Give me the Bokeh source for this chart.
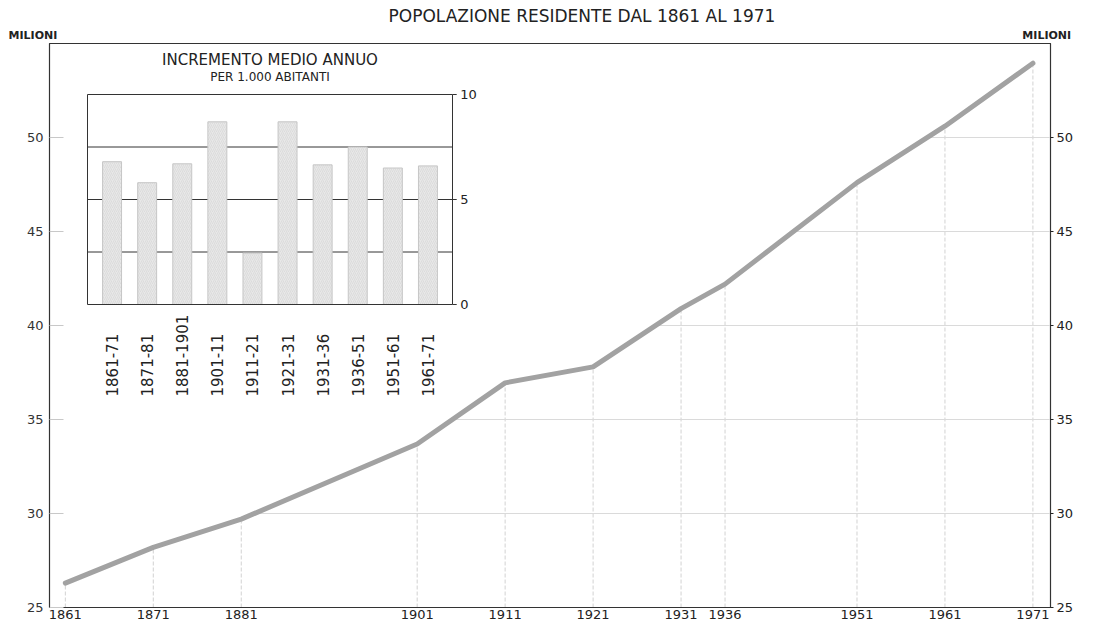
import numpy as np
from bokeh.plotting import figure
from bokeh.models import Range1d, LinearAxis, FixedTicker, Title
from bokeh.core.properties import value
from bokeh.embed import file_html
from bokeh.resources import INLINE

# ---------------- data ----------------
years = [1861, 1871, 1881, 1901, 1911, 1921, 1931, 1936, 1951, 1961, 1971]
population = [26.3, 28.2, 29.7, 33.7, 36.95, 37.8, 40.9, 42.2, 47.6, 50.6, 53.95]
y_ticks = [25, 30, 35, 40, 45, 50]

periods = ["1861-71", "1871-81", "1881-1901", "1901-11", "1911-21",
           "1921-31", "1931-36", "1936-51", "1951-61", "1961-71"]
increment = [6.8, 5.8, 6.7, 8.7, 2.45, 8.7, 6.65, 7.5, 6.5, 6.6]
inset_ticks = [0, 5, 10]
inset_grid = [2.5, 5, 7.5]

title = "POPOLAZIONE RESIDENTE DAL 1861 AL 1971"
unit_label = "MILIONI"
inset_title = "INCREMENTO MEDIO ANNUO"
inset_subtitle = "PER 1.000 ABITANTI"

# ---------------- layout (canvas px) ----------------
FONT_NAME = "DejaVu Sans"
FONT = value(FONT_NAME)
W, H = 1081, 622
L, R, T, B = 49, 1050, 43, 607
FW, FH = R - L, B - T
X0, X1 = 1859.2, 1973.0
Y0, Y1 = 25, 55

p = figure(width=W, height=H, output_backend="svg", toolbar_location=None,
           x_range=Range1d(X0, X1), y_range=Range1d(Y0, Y1),
           min_border_left=L, min_border_right=W - R,
           min_border_top=T, min_border_bottom=H - B)
p.grid.visible = False
p.outline_line_color = "#333333"
p.outline_line_width = 1.2
p.background_fill_color = "white"
p.border_fill_color = "white"

# "MILIONI" over both value axes (one title row), then the main title
gap = "\u00a0" * 252
p.add_layout(Title(text=unit_label + gap + unit_label, align="left", offset=8 - L, standoff=3,
                   text_font=FONT_NAME, text_font_size="11px", text_font_style="bold",
                   text_color="#222222"), "above")
p.add_layout(Title(text=title, align="left", offset=388 - L, standoff=0,
                   text_font=FONT_NAME, text_font_size="17px", text_font_style="normal",
                   text_color="#222222"), "above")

# axes
xa = p.xaxis[0]
xa.ticker = FixedTicker(ticks=years)
xa.major_tick_in = 0
xa.major_tick_out = 0
xa.minor_tick_line_color = None
xa.axis_line_color = "#333333"
xa.major_label_text_font = FONT_NAME
xa.major_label_text_font_size = "13px"
xa.major_label_text_color = "#222222"
xa.major_label_standoff = 2

ya = p.yaxis[0]
ya.ticker = FixedTicker(ticks=y_ticks)
ya.major_tick_in = 14
ya.major_tick_out = 0
ya.major_tick_line_color = "#c8c8c8"
ya.minor_tick_line_color = None
ya.axis_line_color = "#333333"
ya.major_label_text_font = FONT_NAME
ya.major_label_text_font_size = "13px"
ya.major_label_text_color = "#333333"
ya.major_label_standoff = 6

ra = LinearAxis(ticker=FixedTicker(ticks=y_ticks))
ra.major_tick_in = 0
ra.major_tick_out = 3
ra.major_tick_line_color = "#222222"
ra.minor_tick_line_color = None
ra.axis_line_color = "#333333"
ra.major_label_text_font = FONT_NAME
ra.major_label_text_font_size = "13px"
ra.major_label_text_color = "#222222"
ra.major_label_standoff = 3
p.add_layout(ra, "right")

# faint drop lines and level lines
p.segment(x0=years, y0=[Y0] * len(years), x1=years, y1=population,
          line_color="#d2d2d2", line_width=1, line_dash="4 2")
levels = y_ticks[1:]
starts = list(np.interp(levels, population, years))
p.segment(x0=starts, y0=levels, x1=[X1] * len(levels), y1=levels,
          line_color="#dadada", line_width=1)

# main line
p.line(years, population, line_width=5, line_color="#a2a2a2", line_cap="round")

# ---------------- inset ----------------
IB_L, IB_R, IB_T, IB_B = 87, 452, 94, 304
pad = 0.7
n = len(periods)
idx = list(range(n))
bu = (IB_R - IB_L) / (n - 1 + 2 * pad)
ix_start = -pad - (IB_L - L) / bu
ppu = (IB_B - IB_T) / inset_ticks[-1]
p.extra_x_ranges = {"ix": Range1d(ix_start, ix_start + FW / bu)}
p.extra_y_ranges = {"iy": Range1d(-(B - IB_B) / ppu, inset_ticks[-1] + (IB_T - T) / ppu)}
kw = dict(x_range_name="ix", y_range_name="iy")

left_edge, right_edge = -pad, n - 1 + pad
p.segment(x0=[left_edge] * len(inset_grid), x1=[right_edge] * len(inset_grid),
          y0=inset_grid, y1=inset_grid, line_color="#333333", line_width=1, **kw)
p.vbar(x=idx, top=increment, bottom=0, width=0.54,
       fill_color="#e8e8e8", line_color="#c6c6c6", line_width=1,
       hatch_pattern="/", hatch_color="#d2d2d2", hatch_scale=4, hatch_weight=0.6, **kw)
p.quad(left=[left_edge], right=[right_edge], bottom=[inset_ticks[0]], top=[inset_ticks[-1]],
       fill_color=None, line_color="#333333", line_width=1, **kw)
p.segment(x0=[right_edge] * len(inset_ticks), x1=[right_edge + 0.12] * len(inset_ticks),
          y0=inset_ticks, y1=inset_ticks, line_color="#333333", line_width=1, **kw)
p.text(x=[right_edge + 0.22] * len(inset_ticks), y=inset_ticks, text=[str(t) for t in inset_ticks],
       text_font=FONT, text_font_size="13px", text_color="#222222",
       text_align="left", text_baseline="middle", **kw)
p.text(x=idx, y=[-4.38] * n, text=periods, angle=np.pi / 2,
       text_font=FONT, text_font_size="15px", text_color="#222222",
       text_align="left", text_baseline="middle", **kw)
mid = (n - 1) / 2
p.text(x=[mid], y=[11.62], text=[inset_title], text_font=FONT, text_font_size="15px",
       text_color="#222222", text_align="center", text_baseline="middle", **kw)
p.text(x=[mid], y=[10.81], text=[inset_subtitle], text_font=FONT, text_font_size="12px",
       text_color="#222222", text_align="center", text_baseline="middle", **kw)

open("out.html", "w").write(file_html(p, INLINE))
